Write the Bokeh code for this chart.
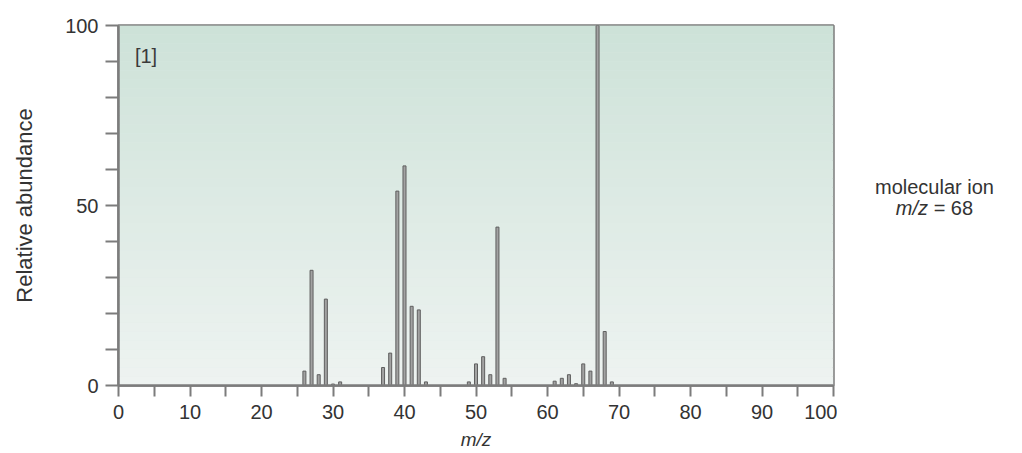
from bokeh.plotting import figure
from bokeh.models import FixedTicker, Range1d, BoxAnnotation, Label, Div
from bokeh.layouts import row
from bokeh.embed import file_html
from bokeh.resources import INLINE

# ---- data ----
mz = [26, 27, 28, 29, 30, 31, 37, 38, 39, 40, 41, 42, 43,
      49, 50, 51, 52, 53, 54, 61, 62, 63, 64, 65, 66, 67, 68, 69]
abundance = [4, 32, 3, 24, 0.4, 1, 5, 9, 54, 61, 22, 21, 1,
             1, 6, 8, 3, 44, 2, 1.2, 2, 3, 0.5, 6, 4, 100, 15, 1]
x_ticks = list(range(0, 101, 5))
x_labeled = list(range(0, 101, 10))
y_ticks = list(range(0, 101, 10))
y_labeled = [0, 50, 100]
panel_tag = "[1]"
note_line1 = "molecular ion"
note_var = "m/z"
note_value = "= 68"

FONT = "Liberation Sans"
AXIS_GRAY = "#7c7c7c"
TEXT = "#333333"

p = figure(width=837, height=453, x_range=Range1d(0, 100), y_range=Range1d(0, 100),
           output_backend="svg", toolbar_location=None,
           min_border_left=118, min_border_right=4, min_border_top=25, min_border_bottom=68)
p.xgrid.visible = False
p.ygrid.visible = False
p.background_fill_color = "#dfeae5"
p.border_fill_color = "white"
p.outline_line_color = AXIS_GRAY
p.outline_line_width = 2.5

# vertical gradient background (styling only)
top_c = (205, 226, 216)
bot_c = (238, 243, 241)
n = 40
for i in range(n):
    t = (i + 0.5) / n
    c = tuple(int(round(bot_c[k] + (top_c[k] - bot_c[k]) * t)) for k in range(3))
    p.add_layout(BoxAnnotation(bottom=100 * i / n, top=100 * (i + 1) / n + 0.1,
                               fill_color="#%02x%02x%02x" % c, fill_alpha=1.0,
                               line_color=None, level="underlay"))

p.vbar(x=mz, top=abundance, bottom=0, width=0.42,
       fill_color="#a2a2a2", line_color="#5f5f5f", line_width=1)

for ax in (p.xaxis, p.yaxis):
    ax.axis_line_color = AXIS_GRAY
    ax.axis_line_width = 2.5
    ax.major_tick_line_color = AXIS_GRAY
    ax.major_tick_line_width = 2
    ax.major_tick_in = 0
    ax.minor_tick_line_color = None
    ax.major_label_text_font = FONT
    ax.major_label_text_font_size = "20px"
    ax.major_label_text_color = TEXT
    ax.axis_label_text_font = FONT
    ax.axis_label_text_color = TEXT

p.xaxis.ticker = FixedTicker(ticks=x_ticks)
p.xaxis.major_label_overrides = {t: "" for t in x_ticks if t not in x_labeled}
p.xaxis.major_tick_out = 11
p.xaxis.major_label_standoff = 8
p.xaxis.axis_label = "m/z"
p.xaxis.axis_label_text_font_style = "italic"
p.xaxis.axis_label_text_font_size = "19px"
p.xaxis.axis_label_standoff = 7

p.yaxis.ticker = FixedTicker(ticks=y_ticks)
p.yaxis.major_label_overrides = {t: "" for t in y_ticks if t not in y_labeled}
p.yaxis.major_tick_out = 13
p.yaxis.major_label_standoff = 7
p.yaxis.axis_label = "Relative abundance"
p.yaxis.axis_label_text_font_style = "normal"
p.yaxis.axis_label_text_font_size = "22px"
p.yaxis.axis_label_standoff = 25

p.add_layout(Label(x=2.3, y=94.5, text=panel_tag, text_font=FONT, text_font_size="20px",
                   text_color="#3a3a3a", text_baseline="top", text_align="left"))

note = Div(width=185, height=453, text=(
    '<div style="padding-top:172px; width:185px; text-align:center; '
    "font-family:'Liberation Sans', Arial, sans-serif; font-size:20px; "
    'line-height:21px; color:#333333;">'
    f'{note_line1}<br><i>{note_var}</i> {note_value}</div>'))

layout = row(p, note)
open("out.html", "w").write(file_html(layout, INLINE))
